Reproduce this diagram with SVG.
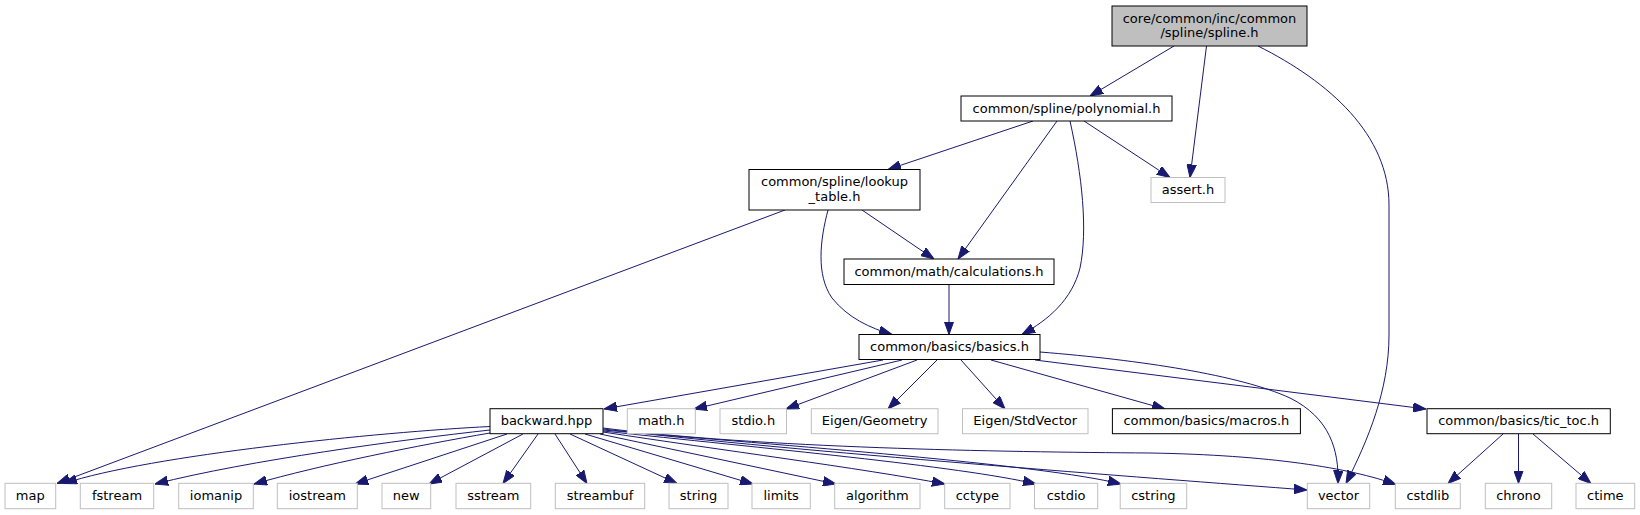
<svg xmlns="http://www.w3.org/2000/svg" width="1640" height="515" viewBox="0 0 1640 515">
<style>
.n rect{fill:#ffffff;stroke:#000000;stroke-width:1}
.u rect{fill:#ffffff;stroke:#bfbfbf;stroke-width:1}
.r rect{fill:#bfbfbf;stroke:#000000;stroke-width:1}
text{font-family:"DejaVu Sans",sans-serif;font-size:13px;fill:#000000;text-anchor:middle}
#edges path{fill:none;stroke:#191970;stroke-width:1;marker-end:url(#arr)}
</style>
<defs>
<marker id="arr" markerUnits="userSpaceOnUse" viewBox="0 0 13 10" markerWidth="13" markerHeight="10" refX="13" refY="5" orient="auto">
<path d="M0,0.3 L13,5 L0,9.7 Z" fill="#191970" stroke="#191970" stroke-width="1"/>
</marker>
</defs>
<rect width="1640" height="515" fill="#ffffff"/>
<g id="edges">
<path d="M1174,46 L1090,96"/>
<path d="M1206.5,46 L1190,177.5"/>
<path d="M1258,46 C1330,82 1389,135 1389,205 L1389,335 C1389,390 1368,440 1346,483.5"/>
<path d="M1033,121 L888,169.5"/>
<path d="M1057,121 L958,259"/>
<path d="M1070,121 C1082,175 1088,230 1080,268 C1072,300 1048,320 1022,334.5"/>
<path d="M1084,121 L1170,177.5"/>
<path d="M785,210 L57,483.5"/>
<path d="M862,210 L934,259"/>
<path d="M828,210 C820,240 816,275 832,298 C848,318 870,328 892,334.5"/>
<path d="M949,285 L949,334.5"/>
<path d="M883,360 L604,409"/>
<path d="M902,360 L694,409"/>
<path d="M917,360 L786,409"/>
<path d="M937,360 L888,409"/>
<path d="M961,360 L1005,409"/>
<path d="M991,360 L1165,409"/>
<path d="M1035,360 L1426,409"/>
<path d="M1040,352 C1140,360 1240,375 1290,398 C1330,418 1339,450 1338,483.5"/>
<path d="M490,426.5 C380,432 150,455 64,483.5"/>
<path d="M490,430 C400,440 250,460 155,484"/>
<path d="M490,433 C420,445 320,465 254,484"/>
<path d="M507,434 L355,484"/>
<path d="M523,434 L429,484"/>
<path d="M538,434 L503,483.5"/>
<path d="M555,434 L587,483.5"/>
<path d="M570,434 L677,483.5"/>
<path d="M585,434 L753,484"/>
<path d="M600,434 L836,484"/>
<path d="M603,432 C720,450 860,468 945,484"/>
<path d="M603,431 C760,448 960,466 1036,484"/>
<path d="M603,430 C790,446 1040,464 1121,484"/>
<path d="M603,429 C800,452 1150,478 1307,490"/>
<path d="M603,428 C760,448 1000,452 1150,453 C1270,455 1350,468 1396,484.5"/>
<path d="M1503,434 L1448,483.5"/>
<path d="M1518.5,434 L1518.5,483.5"/>
<path d="M1533,434 L1591,483.5"/>
</g>
<g id="spline_h" class="r"><rect x="1112" y="6" width="195" height="40"/><text x="1209.5" y="22.5">core/common/inc/common</text><text x="1209.5" y="37">/spline/spline.h</text></g>
<g id="polynomial_h" class="n"><rect x="961" y="96" width="211" height="25"/><text x="1066.5" y="112.6">common/spline/polynomial.h</text></g>
<g id="lookup_table_h" class="n"><rect x="749" y="169.5" width="171" height="40.5"/><text x="834.5" y="186">common/spline/lookup</text><text x="834.5" y="200.5">_table.h</text></g>
<g id="assert_h" class="u"><rect x="1151" y="177.5" width="74" height="25"/><text x="1188" y="194">assert.h</text></g>
<g id="calculations_h" class="n"><rect x="844" y="259" width="210" height="25.5"/><text x="949" y="275.6">common/math/calculations.h</text></g>
<g id="basics_h" class="n"><rect x="859" y="334.5" width="181" height="25"/><text x="949.5" y="351">common/basics/basics.h</text></g>
<g id="backward_hpp" class="n"><rect x="490" y="408.7" width="113" height="25"/><text x="546.5" y="425.3">backward.hpp</text></g>
<g id="math_h" class="u"><rect x="627.3" y="408.7" width="68" height="25"/><text x="661.3" y="425.3">math.h</text></g>
<g id="stdio_h" class="u"><rect x="720" y="408.7" width="66.5" height="25"/><text x="753.3" y="425.3">stdio.h</text></g>
<g id="eigen_geometry" class="u"><rect x="811.3" y="408.7" width="126.7" height="25"/><text x="874.6" y="425.3">Eigen/Geometry</text></g>
<g id="eigen_stdvector" class="u"><rect x="962.5" y="408.7" width="125.5" height="25"/><text x="1025.2" y="425.3">Eigen/StdVector</text></g>
<g id="macros_h" class="n"><rect x="1112.4" y="408.7" width="188" height="25"/><text x="1206.4" y="425.3">common/basics/macros.h</text></g>
<g id="tic_toc_h" class="n"><rect x="1427" y="408.7" width="183.3" height="25"/><text x="1518.6" y="425.3">common/basics/tic_toc.h</text></g>
<g id="map" class="u"><rect x="5" y="483.3" width="50.7" height="25.4"/><text x="30.3" y="500">map</text></g>
<g id="fstream" class="u"><rect x="80.3" y="483.3" width="73.4" height="25.4"/><text x="117" y="500">fstream</text></g>
<g id="iomanip" class="u"><rect x="178.7" y="483.3" width="74.6" height="25.4"/><text x="216" y="500">iomanip</text></g>
<g id="iostream" class="u"><rect x="277.3" y="483.3" width="80" height="25.4"/><text x="317.3" y="500">iostream</text></g>
<g id="new" class="u"><rect x="382" y="483.3" width="48.7" height="25.4"/><text x="406.3" y="500">new</text></g>
<g id="sstream" class="u"><rect x="456" y="483.3" width="74.7" height="25.4"/><text x="493.3" y="500">sstream</text></g>
<g id="streambuf" class="u"><rect x="555.3" y="483.3" width="89.4" height="25.4"/><text x="600" y="500">streambuf</text></g>
<g id="string" class="u"><rect x="669" y="483.3" width="59" height="25.4"/><text x="698.5" y="500">string</text></g>
<g id="limits" class="u"><rect x="752" y="483.3" width="58.3" height="25.4"/><text x="781.2" y="500">limits</text></g>
<g id="algorithm" class="u"><rect x="834.7" y="483.3" width="85.3" height="25.4"/><text x="877.3" y="500">algorithm</text></g>
<g id="cctype" class="u"><rect x="944.7" y="483.3" width="65.3" height="25.4"/><text x="977.3" y="500">cctype</text></g>
<g id="cstdio" class="u"><rect x="1034.5" y="483.3" width="63.2" height="25.4"/><text x="1066.1" y="500">cstdio</text></g>
<g id="cstring" class="u"><rect x="1120.2" y="483.3" width="66.5" height="25.4"/><text x="1153.4" y="500">cstring</text></g>
<g id="vector" class="u"><rect x="1307.3" y="483.3" width="62.4" height="25.4"/><text x="1338.5" y="500">vector</text></g>
<g id="cstdlib" class="u"><rect x="1395.3" y="483.3" width="65" height="25.4"/><text x="1427.8" y="500">cstdlib</text></g>
<g id="chrono" class="u"><rect x="1485.3" y="483.3" width="66.4" height="25.4"/><text x="1518.5" y="500">chrono</text></g>
<g id="ctime" class="u"><rect x="1576" y="483.3" width="58.7" height="25.4"/><text x="1605.3" y="500">ctime</text></g>
</svg>
